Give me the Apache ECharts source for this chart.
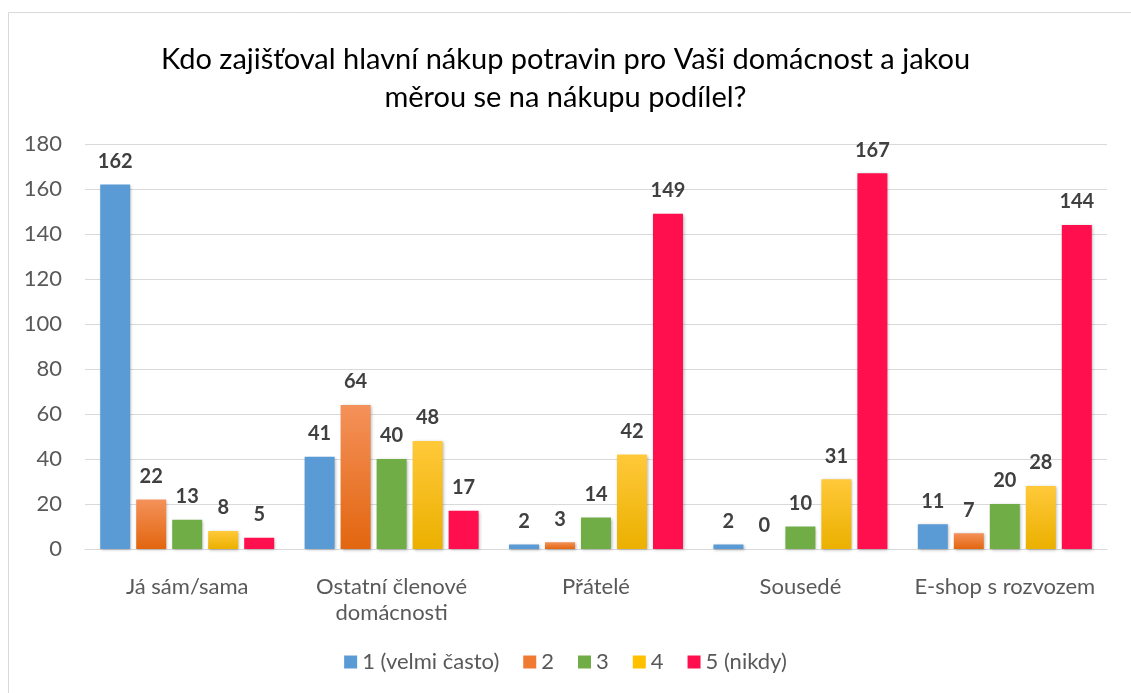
<!DOCTYPE html>
<html>
<head>
<meta charset="utf-8">
<script src="https://cdn.jsdelivr.net/npm/echarts@6/dist/echarts.min.js"></script>
<style>
  html, body { margin: 0; padding: 0; background: #fff; }
  #chart { width: 1131px; height: 693px; }
</style>
</head>
<body>
<div id="chart"></div>
<script>
  // kategorie a hodnoty
  var categories = ['Já sám/sama', 'Ostatní členové\ndomácnosti', 'Přátelé', 'Sousedé', 'E-shop s rozvozem'];
  var seriesNames = ['1 (velmi často)', '2', '3', '4', '5 (nikdy)'];
  var val1 = [162, 41, 2, 2, 11];
  var val2 = [22, 64, 3, 0, 7];
  var val3 = [13, 40, 14, 10, 20];
  var val4 = [8, 48, 42, 31, 28];
  var val5 = [5, 17, 149, 167, 144];

  var font = 'Lato, "Open Sans", sans-serif';

  function grad(top, bottom) {
    return new echarts.graphic.LinearGradient(0, 0, 0, 1, [
      {offset: 0, color: top},
      {offset: 1, color: bottom}
    ]);
  }

  var colors = [
    '#5B9BD5',
    grad('#F4915A', '#E2660F'),
    '#70AD47',
    grad('#FFC93A', '#EBB000'),
    '#FF0F4E'
  ];
  var legendColors = ['#5B9BD5', '#F07A32', '#70AD47', '#FFC000', '#FF0F4E'];

  function makeSeries(name, data, i) {
    return {
      name: name,
      type: 'bar',
      data: data,
      barWidth: 30,
      barGap: '20%',
      itemStyle: {
        color: colors[i],
        shadowBlur: 3,
        shadowColor: 'rgba(0,0,0,0.3)',
        shadowOffsetX: 1,
        shadowOffsetY: 1
      },
      label: {
        show: true,
        position: 'top',
        distance: 13,
        fontFamily: font,
        fontSize: 20,
        fontWeight: 'bold',
        color: '#404040'
      }
    };
  }

  var myChart = echarts.init(document.getElementById('chart'));
  var option = {
    animation: false,
    color: legendColors,
    graphic: [{
      type: 'rect',
      shape: {x: 8.5, y: 12.5, width: 1200, height: 800},
      style: {fill: 'none', stroke: '#d9d9d9', lineWidth: 1},
      silent: true
    }],
    title: {
      text: 'Kdo zajišťoval hlavní nákup potravin pro Vaši domácnost a jakou\nměrou se na nákupu podílel?',
      left: 'center',
      top: 36,
      textStyle: {
        fontFamily: font,
        fontSize: 29,
        fontWeight: 'normal',
        color: '#000',
        lineHeight: 38,
        align: 'center'
      }
    },
    legend: {
      data: seriesNames.map(function (n, i) {
        return {name: n, itemStyle: {color: legendColors[i]}};
      }),
      bottom: 15,
      left: 'center',
      itemWidth: 13,
      itemHeight: 13,
      itemGap: 24,
      icon: 'rect',
      textStyle: {fontFamily: font, fontSize: 22, color: '#595959'}
    },
    grid: {
      left: 85,
      right: 24,
      top: 144,
      bottom: 144,
      containLabel: false
    },
    xAxis: {
      type: 'category',
      data: categories,
      axisLine: {show: true, lineStyle: {color: '#d9d9d9'}},
      axisTick: {show: false},
      axisLabel: {
        fontFamily: font,
        fontSize: 22,
        color: '#595959',
        margin: 25,
        lineHeight: 26,
        interval: 0
      }
    },
    yAxis: {
      type: 'value',
      min: 0,
      max: 180,
      interval: 20,
      axisLine: {show: false},
      axisTick: {show: false},
      splitLine: {lineStyle: {color: '#d9d9d9'}},
      axisLabel: {
        fontFamily: font,
        fontSize: 22,
        color: '#595959',
        margin: 23
      }
    },
    series: [
      makeSeries(seriesNames[0], val1, 0),
      makeSeries(seriesNames[1], val2, 1),
      makeSeries(seriesNames[2], val3, 2),
      makeSeries(seriesNames[3], val4, 3),
      makeSeries(seriesNames[4], val5, 4)
    ]
  };
  myChart.setOption(option);
</script>
</body>
</html>
